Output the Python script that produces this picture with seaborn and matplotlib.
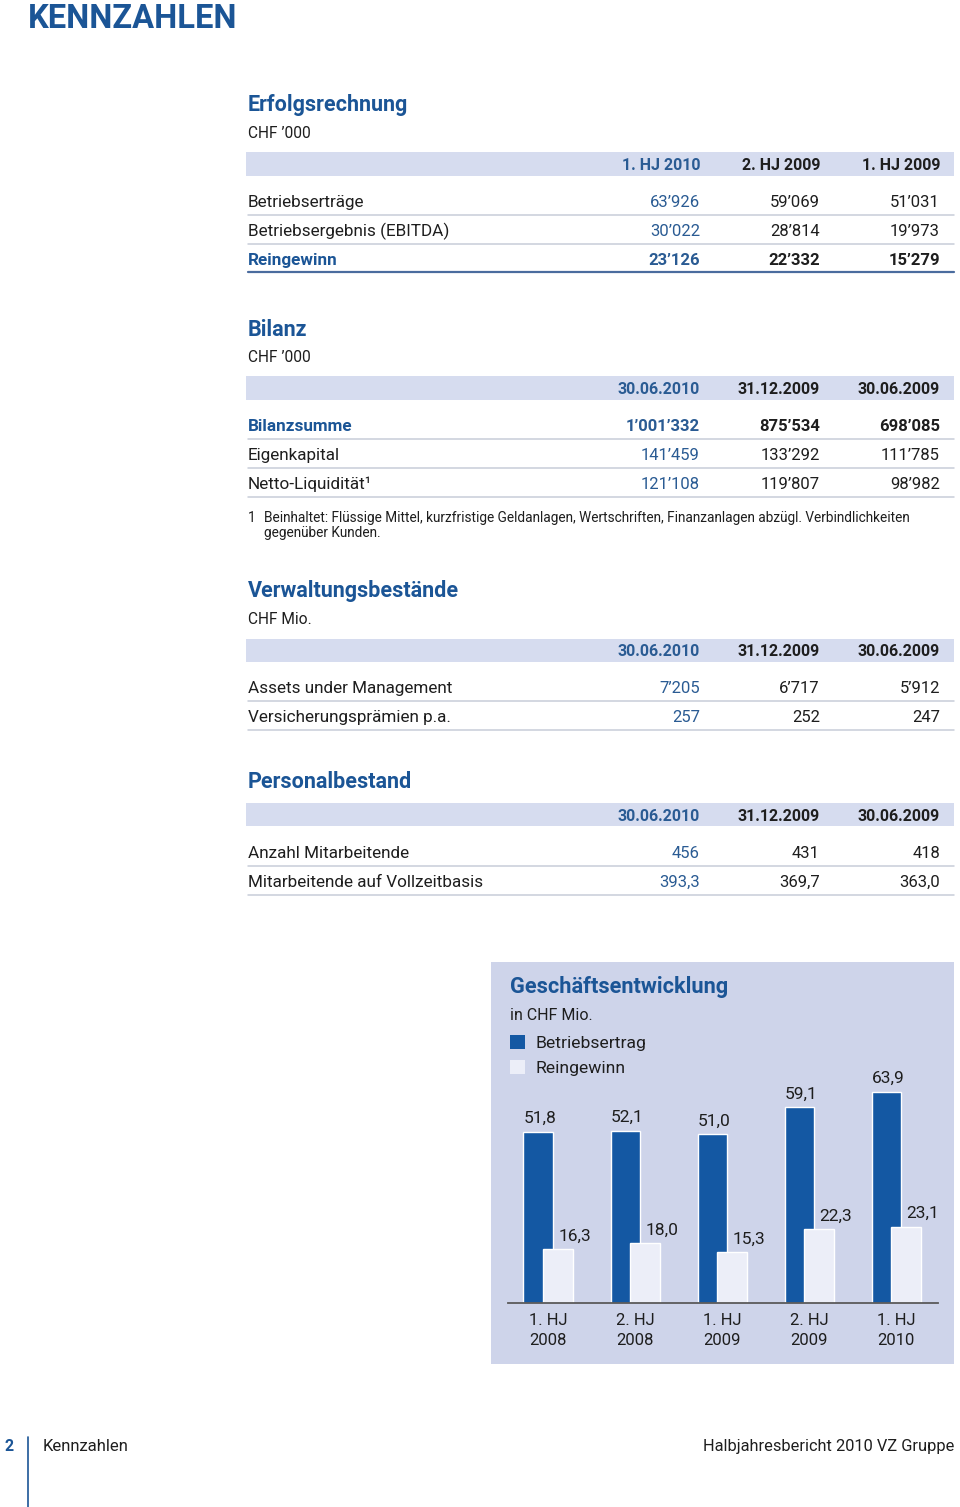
import numpy as np
import matplotlib.pyplot as plt
import seaborn as sns
from matplotlib.patches import Rectangle, Patch
from matplotlib.lines import Line2D

# Tabellen-Daten
er_cols = ['1. HJ 2010', '2. HJ 2009', '1. HJ 2009']
er_rows = ['Betriebserträge', 'Betriebsergebnis (EBITDA)', 'Reingewinn']
er_vals = [['63’926', '59’069', '51’031'],
           ['30’022', '28’814', '19’973'],
           ['23’126', '22’332', '15’279']]

bil_cols = ['30.06.2010', '31.12.2009', '30.06.2009']
bil_rows = ['Bilanzsumme', 'Eigenkapital', 'Netto-Liquidität¹']
bil_vals = [['1’001’332', '875’534', '698’085'],
            ['141’459', '133’292', '111’785'],
            ['121’108', '119’807', '98’982']]
bil_note = ['1', 'Beinhaltet: Flüssige Mittel, kurzfristige Geldanlagen, Wertschriften, Finanzanlagen abzügl. Verbindlichkeiten',
            'gegenüber Kunden.']

vw_cols = ['30.06.2010', '31.12.2009', '30.06.2009']
vw_rows = ['Assets under Management', 'Versicherungsprämien p.a.']
vw_vals = [['7’205', '6’717', '5’912'],
           ['257', '252', '247']]

ps_cols = ['30.06.2010', '31.12.2009', '30.06.2009']
ps_rows = ['Anzahl Mitarbeitende', 'Mitarbeitende auf Vollzeitbasis']
ps_vals = [['456', '431', '418'],
           ['393,3', '369,7', '363,0']]

# Grafik-Daten
periods = ['1. HJ\n2008', '2. HJ\n2008', '1. HJ\n2009', '2. HJ\n2009', '1. HJ\n2010']
betriebsertrag = [51.8, 52.1, 51.0, 59.1, 63.9]
reingewinn = [16.3, 18.0, 15.3, 22.3, 23.1]

BLUE = '#1b5596'
VAL_BLUE = '#2a5b93'
DARK = '#1e1e1e'
BAND = '#d6dcef'
CHART_BG = '#ced4ea'
BAR_BLUE = '#1458a3'
BAR_WHITE = '#eceef8'
LINE = '#c8cdd8'

sns.set_theme(style='white')
plt.rcParams['font.family'] = ['Roboto', 'DejaVu Sans']

W, H = 960, 1507
fig = plt.figure(figsize=(9.6, 15.07), dpi=100)
fig.patch.set_facecolor('white')


def X(px):
    return px / W


def Y(py):
    return 1 - py / H


def txt(x, y, s, size, color=DARK, weight='normal', ha='left'):
    # Roboto sitzt bei va='center' etwas hoch, daher +1.5 px
    fig.text(X(x), Y(y + 1.5), s, fontsize=size, color=color, fontweight=weight,
             ha=ha, va='center')


def hline(x0, x1, y, color, lw):
    fig.add_artist(Line2D([X(x0), X(x1)], [Y(y), Y(y)], transform=fig.transFigure,
                          color=color, lw=lw))


def box(x0, y0, x1, y1, color):
    fig.add_artist(Rectangle((X(x0), Y(y1)), X(x1) - X(x0), (y1 - y0) / H,
                             transform=fig.transFigure, facecolor=color,
                             edgecolor='none', zorder=-1))


col_right = [700, 820, 940]


def section(title, title_y, unit, cols, rows, vals, band_y, bold_rows=(), blue_end=False):
    txt(248, title_y, title, 15.5, BLUE, 'bold')
    if unit:
        txt(248, title_y + 28, unit, 11.2)
    box(246, band_y - 11.5, 954, band_y + 11.5, BAND)
    for j, c in enumerate(cols):
        txt(col_right[j], band_y, c, 11.5, VAL_BLUE if j == 0 else DARK, 'bold', 'right')
    for i, r in enumerate(rows):
        y = band_y + 37 + 29 * i
        bold = i in bold_rows
        txt(248, y, r, 12.3, BLUE if bold else DARK, 'bold' if bold else 'normal')
        for j, v in enumerate(vals[i]):
            txt(col_right[j], y, v, 12, VAL_BLUE if j == 0 else DARK,
                'bold' if bold else 'normal', 'right')
        last = i == len(rows) - 1
        if last and blue_end:
            hline(248, 954, y + 13, '#4a6c9e', 1.6)
        else:
            hline(248, 954, y + 14, LINE, 1.1)


# Seitentitel
fig.text(X(28), Y(19), 'KENNZAHLEN', fontsize=23.5, color=BLUE, fontweight='bold',
         ha='left', va='center')

section('Erfolgsrechnung', 104, 'CHF ’000', er_cols, er_rows, er_vals, 164,
        bold_rows=(2,), blue_end=True)
section('Bilanz', 328, 'CHF ’000', bil_cols, bil_rows, bil_vals, 388, bold_rows=(0,))
txt(248, 516, bil_note[0], 9.8)
txt(264, 516, bil_note[1], 9.8)
txt(264, 532, bil_note[2], 9.8)
section('Verwaltungsbestände', 590, 'CHF Mio.', vw_cols, vw_rows, vw_vals, 650)
section('Personalbestand', 781, None, ps_cols, ps_rows, ps_vals, 815)

# Grafik Geschäftsentwicklung
box(491, 962, 954, 1364, CHART_BG)
txt(510, 986, 'Geschäftsentwicklung', 15.7, BLUE, 'bold')
txt(510, 1014, 'in CHF Mio.', 11.5)

handles = [Patch(facecolor=BAR_BLUE, edgecolor='none', label='Betriebsertrag'),
           Patch(facecolor=BAR_WHITE, edgecolor='none', label='Reingewinn')]
fig.legend(handles=handles, loc='upper left', bbox_to_anchor=(X(510), Y(1035)),
           frameon=False, fontsize=12.6, handlelength=0.85, handleheight=0.85,
           handletextpad=0.6, labelspacing=0.5, borderpad=0, borderaxespad=0,
           labelcolor=DARK)

ax = fig.add_axes([X(508), Y(1303), (938 - 508) / W, (1303 - 1070) / H])
ax.set_facecolor('none')
pos = np.arange(len(periods))
off = 0.112
sns.barplot(x=pos - off, y=betriebsertrag, native_scale=True, orient='x', width=0.34,
            color=BAR_BLUE, saturation=1, errorbar=None, ax=ax)
sns.barplot(x=pos + off, y=reingewinn, native_scale=True, orient='x', width=0.34,
            color=BAR_WHITE, saturation=1, errorbar=None, ax=ax)

for i, v in enumerate(betriebsertrag):
    ax.annotate(f'{v:.1f}'.replace('.', ','), (pos[i] - off, v), xytext=(1, 4),
                textcoords='offset points', ha='center', va='bottom', fontsize=12.5, color=DARK)
for i, v in enumerate(reingewinn):
    ax.annotate(f'{v:.1f}'.replace('.', ','), (pos[i] + off, v), xytext=(12, 4),
                textcoords='offset points', ha='center', va='bottom', fontsize=12.5, color=DARK)

ax.set_xlim(-0.46, 4.48)
ax.set_ylim(0, 70.4)
ax.set_xticks(pos, periods)
for lab in ax.get_xticklabels():
    lab.set_linespacing(1.45)
ax.set_yticks([])
ax.tick_params(axis='x', length=0, pad=7, labelsize=12, colors=DARK)
ax.set_xlabel('')
ax.set_ylabel('')
for s in ['top', 'left', 'right']:
    ax.spines[s].set_visible(False)
ax.spines['bottom'].set_color('#5a5a5a')
ax.spines['bottom'].set_linewidth(1.3)

# Fusszeile
txt(9, 1445, '2', 11.5, BLUE, 'bold', 'center')
fig.add_artist(Line2D([X(28), X(28)], [Y(1437), Y(1507)], transform=fig.transFigure,
                      color=BLUE, lw=1.2))
txt(43, 1445, 'Kennzahlen', 12)
txt(954, 1445, 'Halbjahresbericht 2010 VZ Gruppe', 11.8, ha='right')

fig.savefig('out.png', dpi=100)
